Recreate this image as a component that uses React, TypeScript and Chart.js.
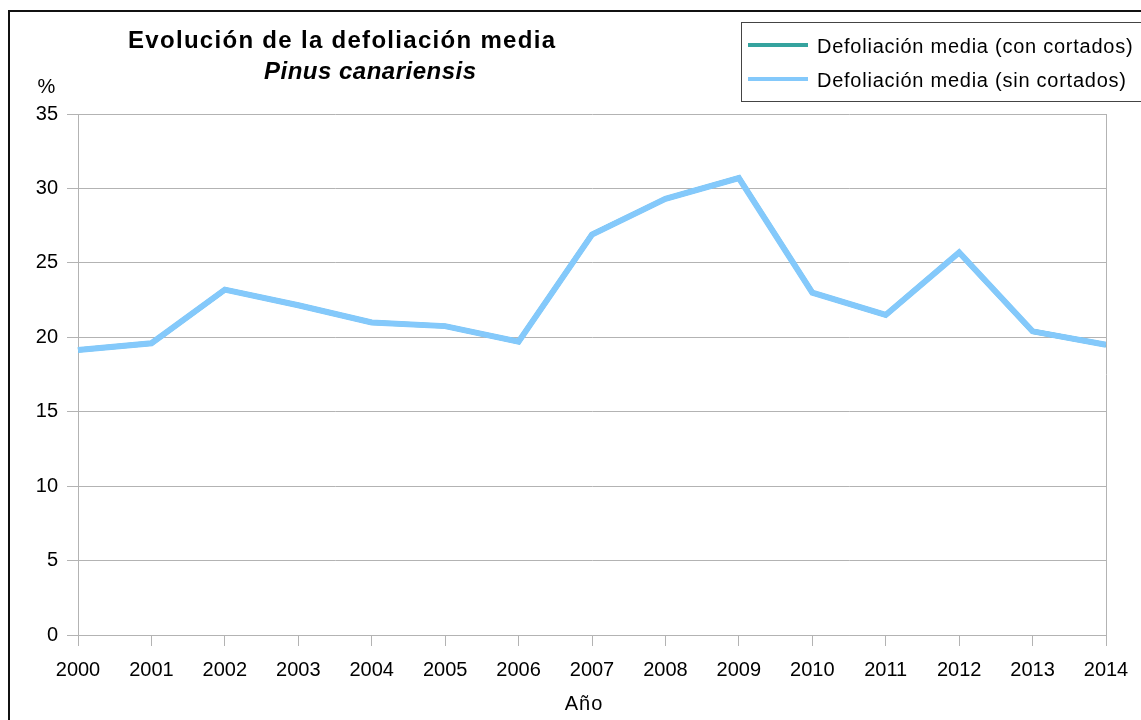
import React, { useEffect, useRef } from "react";
import { Chart, registerables } from "chart.js";

Chart.register(...registerables);

const years = ["2000", "2001", "2002", "2003", "2004", "2005", "2006", "2007", "2008", "2009", "2010", "2011", "2012", "2013", "2014"];
const conCortados = [19.15, 19.6, 23.2, 22.15, 21.0, 20.75, 19.7, 26.9, 29.3, 30.7, 23.0, 21.5, 25.7, 20.4, 19.5];
const sinCortados = [19.15, 19.6, 23.2, 22.15, 21.0, 20.75, 19.7, 26.9, 29.3, 30.7, 23.0, 21.5, 25.7, 20.4, 19.5];
const seriesLabels = ["Defoliación media (con cortados)", "Defoliación media (sin cortados)"];
const seriesColors = ["#35a39e", "#84c9fb"];
const titleLines = ["Evolución de la defoliación media", "Pinus canariensis"];
const yTitle = "%";
const xTitle = "Año";

const FONT = '"Liberation Sans", Arial, sans-serif';

const decorPlugin = {
  id: "decor",
  afterDraw(chart: any) {
    const ctx = chart.ctx as CanvasRenderingContext2D;
    const area = chart.chartArea;
    ctx.save();
    // right border of plot area
    ctx.strokeStyle = "#b3b3b3";
    ctx.lineWidth = 1;
    ctx.beginPath();
    ctx.moveTo(Math.round(area.right) + 0.5, area.top);
    ctx.lineTo(Math.round(area.right) + 0.5, area.bottom);
    ctx.stroke();

    // outer frame
    ctx.fillStyle = "#111";
    ctx.fillRect(8, 10, 2, 720);
    ctx.fillRect(8, 10, 1141, 2);

    // title
    ctx.fillStyle = "#000";
    ctx.textBaseline = "alphabetic";
    ctx.textAlign = "left";
    (ctx as any).letterSpacing = "1.3px";
    ctx.font = `bold 24px ${FONT}`;
    ctx.fillText(titleLines[0], 128, 48);
    (ctx as any).letterSpacing = "0.5px";
    ctx.font = `italic bold 24px ${FONT}`;
    ctx.fillText(titleLines[1], 264, 79);

    // axis titles
    (ctx as any).letterSpacing = "1px";
    ctx.font = `20px ${FONT}`;
    ctx.textAlign = "center";
    ctx.fillText(yTitle, 47, 93);
    ctx.fillText(xTitle, 584, 710);

    // legend
    (ctx as any).letterSpacing = "0px";
    ctx.strokeStyle = "#444";
    ctx.lineWidth = 1;
    ctx.strokeRect(741.5, 22.5, 500, 79);
    const ys = [45, 79];
    (ctx as any).letterSpacing = "0.75px";
    ctx.textAlign = "left";
    ctx.font = `20px ${FONT}`;
    for (let i = 0; i < seriesLabels.length; i++) {
      ctx.strokeStyle = seriesColors[i];
      ctx.lineWidth = 4;
      ctx.beginPath();
      ctx.moveTo(748, ys[i]);
      ctx.lineTo(808, ys[i]);
      ctx.stroke();
      ctx.fillStyle = "#000";
      ctx.fillText(seriesLabels[i], 817, ys[i] + 7.5);
    }
    ctx.restore();
  },
};

export default function App() {
  const ref = useRef<HTMLCanvasElement>(null);
  useEffect(() => {
    if (!ref.current) return;
    const chart = new Chart(ref.current, {
      type: "line",
      data: {
        labels: years,
        datasets: [
          {
            label: seriesLabels[0],
            data: conCortados,
            borderColor: seriesColors[0],
            backgroundColor: seriesColors[0],
            borderWidth: 5,
            pointRadius: 0,
            tension: 0,
            borderJoinStyle: "miter",
            order: 1,
          },
          {
            label: seriesLabels[1],
            data: sinCortados,
            borderColor: seriesColors[1],
            backgroundColor: seriesColors[1],
            borderWidth: 6,
            pointRadius: 0,
            tension: 0,
            borderJoinStyle: "miter",
            order: 0,
          },
        ],
      },
      options: {
        animation: false,
        responsive: false,
        devicePixelRatio: 1,
        layout: { padding: { left: 0, right: 35, top: 114, bottom: 0 } },
        plugins: {
          legend: { display: false },
          title: { display: false },
          tooltip: { enabled: false },
        },
        scales: {
          x: {
            offset: false,
            grid: { drawOnChartArea: false, drawTicks: true, tickLength: 11, color: "#b3b3b3" },
            border: { color: "#b3b3b3" },
            ticks: { color: "#000", font: { family: FONT, size: 20 }, padding: 12, maxRotation: 0, autoSkip: false },
            afterFit: (s: any) => { s.height = 85; },
          },
          y: {
            min: 0,
            max: 35,
            grid: { color: "#b3b3b3", tickLength: 11 },
            border: { color: "#b3b3b3" },
            ticks: { stepSize: 5, color: "#000", font: { family: FONT, size: 20 }, padding: 9 },
            afterFit: (s: any) => { s.width = 78; },
          },
        },
      },
      plugins: [decorPlugin],
    });
    return () => chart.destroy();
  }, []);
  return (
    <div style={{ position: "fixed", left: 0, top: 0, width: 1141, height: 720, background: "#fff" }}>
      <canvas ref={ref} width={1141} height={720} style={{ display: "block" }} />
    </div>
  );
}
